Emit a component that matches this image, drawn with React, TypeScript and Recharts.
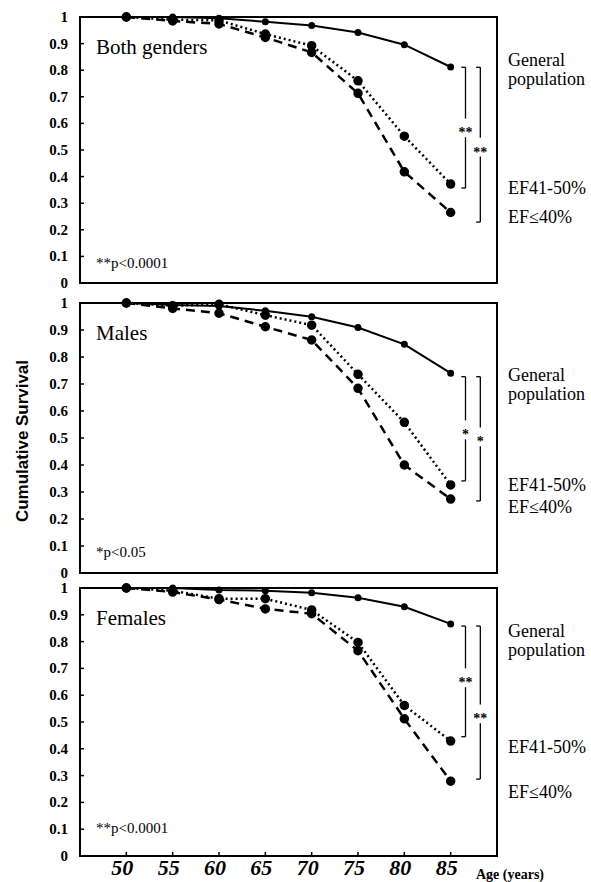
import React from 'react';
import { LineChart, Line, XAxis, YAxis, ReferenceArea, ReferenceLine, ReferenceDot } from 'recharts';

const ages = [50, 55, 60, 65, 70, 75, 80, 85];
const yTicks = [0, 0.1, 0.2, 0.3, 0.4, 0.5, 0.6, 0.7, 0.8, 0.9, 1];

const bothGeneral = [1.0, 1.0, 0.995, 0.982, 0.968, 0.942, 0.896, 0.812];
const bothEF4150 = [1.0, 0.99, 0.987, 0.936, 0.892, 0.76, 0.552, 0.372];
const bothEF40 = [1.0, 0.985, 0.974, 0.923, 0.867, 0.713, 0.418, 0.265];

const malesGeneral = [1.0, 0.993, 0.989, 0.971, 0.949, 0.909, 0.847, 0.74];
const malesEF4150 = [1.0, 0.99, 0.995, 0.955, 0.918, 0.736, 0.558, 0.326];
const malesEF40 = [1.0, 0.98, 0.962, 0.912, 0.863, 0.684, 0.4, 0.274];

const femalesGeneral = [1.0, 1.0, 0.993, 0.99, 0.982, 0.964, 0.93, 0.866];
const femalesEF4150 = [1.0, 0.99, 0.96, 0.96, 0.918, 0.797, 0.562, 0.429];
const femalesEF40 = [1.0, 0.985, 0.957, 0.922, 0.904, 0.766, 0.512, 0.279];

// brackets: [x, top, bottom, star position]
const bothBrackets = [[86.6, 0.811, 0.357, 0.583], [88.2, 0.811, 0.229, 0.511]];
const malesBrackets = [[86.6, 0.727, 0.341, 0.53], [88.2, 0.727, 0.267, 0.504]];
const femalesBrackets = [[86.6, 0.858, 0.445, 0.665], [88.2, 0.858, 0.287, 0.53]];

const serif = 'Liberation Serif, Times New Roman, serif';

function YTick(props: any) {
  const { x, y, payload } = props;
  const v = payload.value;
  const label = v === 0 ? '0' : v === 1 ? '1' : v.toFixed(1);
  return (
    <g>
      <line x1={x} x2={x + 4} y1={y} y2={y} stroke="#000" strokeWidth={1.5} />
      <text x={x - 12} y={y} textAnchor="end" dominantBaseline="central" fontFamily={serif} fontWeight="bold" fontSize={15} fill="#000">
        {label}
      </text>
    </g>
  );
}

function makeXTick(showLabel: boolean) {
  return (props: any) => {
    const { x, y, payload } = props;
    return (
      <g>
        <line x1={x} x2={x} y1={y} y2={y - 4} stroke="#000" strokeWidth={1.5} />
        {showLabel ? (
          <text x={x - 4} y={y + 11} textAnchor="middle" dominantBaseline="central" fontFamily={serif} fontWeight="bold" fontStyle="italic" fontSize={22} fill="#000">
            {payload.value}
          </text>
        ) : null}
      </g>
    );
  };
}

function starLabel(text: string) {
  return (props: any) => {
    const vb = props.viewBox || {};
    const cx = vb.x + (vb.width || 0) / 2;
    const cy = vb.y + (vb.height || 0) / 2;
    return (
      <text x={cx} y={cy + 5} textAnchor="middle" dominantBaseline="central" fontFamily={serif} fontWeight="bold" fontSize={14} fill="#000">
        {text}
      </text>
    );
  };
}

function Panel(p: any) {
  const data = ages.map((a, i) => ({ age: a, g: p.general[i], d: p.ef4150[i], e: p.ef40[i] }));
  const gap = 0.035;
  const tick = 0.45;
  return (
    <div style={{ position: 'absolute', left: 0, top: p.top }}>
      <LineChart width={591} height={p.height} data={data} margin={{ top: p.mTop, right: 94, bottom: p.mBottom, left: 0 }}>
        <XAxis
          dataKey="age"
          type="number"
          domain={[45, 90]}
          ticks={ages}
          interval={0}
          height={p.xHeight}
          tickLine={false}
          tickSize={0}
          tickMargin={0}
          axisLine={{ stroke: '#000', strokeWidth: 2 }}
          tick={makeXTick(p.showX)}
        />
        <YAxis
          type="number"
          domain={[0, 1]}
          ticks={yTicks}
          interval={0}
          width={80}
          tickLine={false}
          tickSize={0}
          tickMargin={0}
          axisLine={{ stroke: '#000', strokeWidth: 2 }}
          tick={YTick}
        />
        <ReferenceArea x1={45} x2={90} y1={0} y2={1} fill="none" fillOpacity={0} stroke="#000" strokeWidth={2} ifOverflow="visible" />
        {p.brackets.map((b: number[], i: number) => (
          <ReferenceLine key={'a' + i} segment={[{ x: b[0], y: b[1] }, { x: b[0], y: b[3] + gap }]} stroke="#000" strokeWidth={1.3} ifOverflow="visible" />
        ))}
        {p.brackets.map((b: number[], i: number) => (
          <ReferenceLine key={'b' + i} segment={[{ x: b[0], y: b[3] - gap }, { x: b[0], y: b[2] }]} stroke="#000" strokeWidth={1.3} ifOverflow="visible" />
        ))}
        {p.brackets.map((b: number[], i: number) => (
          <ReferenceLine key={'c' + i} segment={[{ x: b[0] - tick, y: b[1] }, { x: b[0], y: b[1] }]} stroke="#000" strokeWidth={1.3} ifOverflow="visible" />
        ))}
        {p.brackets.map((b: number[], i: number) => (
          <ReferenceLine key={'d' + i} segment={[{ x: b[0] - tick, y: b[2] }, { x: b[0], y: b[2] }]} stroke="#000" strokeWidth={1.3} ifOverflow="visible" />
        ))}
        {p.brackets.map((b: number[], i: number) => (
          <ReferenceDot key={'s' + i} x={b[0]} y={b[3]} r={0} fill="none" stroke="none" label={starLabel(p.star)} ifOverflow="visible" />
        ))}
        <Line type="linear" dataKey="e" stroke="#000" strokeWidth={2.5} strokeDasharray="9 6" dot={{ r: 3.5, fill: '#000', stroke: '#000', strokeDasharray: '' }} isAnimationActive={false} />
        <Line type="linear" dataKey="d" stroke="#000" strokeWidth={2.5} strokeDasharray="2 3" dot={{ r: 3.5, fill: '#000', stroke: '#000', strokeDasharray: '' }} isAnimationActive={false} />
        <Line type="linear" dataKey="g" stroke="#000" strokeWidth={2} dot={{ r: 2.5, fill: '#000', stroke: '#000' }} isAnimationActive={false} />
      </LineChart>
    </div>
  );
}

const T = (props: any) => (
  <text fontFamily={serif} fontSize={18} fill="#000" dominantBaseline="central" {...props} />
);

export default function App() {
  return (
    <div style={{ position: 'absolute', left: 0, top: 0, width: 591, height: 882, background: '#fff', fontFamily: serif }}>
      <Panel top={0} height={300} mTop={17} mBottom={17} xHeight={0} showX={false} general={bothGeneral} ef4150={bothEF4150} ef40={bothEF40} brackets={bothBrackets} star="**" />
      <Panel top={290} height={300} mTop={13} mBottom={17} xHeight={0} showX={false} general={malesGeneral} ef4150={malesEF4150} ef40={malesEF40} brackets={malesBrackets} star="*" />
      <Panel top={580} height={302} mTop={8} mBottom={0} xHeight={26} showX={true} general={femalesGeneral} ef4150={femalesEF4150} ef40={femalesEF40} brackets={femalesBrackets} star="**" />
      <svg width={591} height={882} style={{ position: 'absolute', left: 0, top: 0, pointerEvents: 'none' }}>
        <T x={96} y={47} fontSize={21}>Both genders</T>
        <T x={96} y={263} fontSize={15}>**p&lt;0.0001</T>
        <T x={96} y={333} fontSize={21}>Males</T>
        <T x={96} y={552} fontSize={15}>*p&lt;0.05</T>
        <T x={96} y={618} fontSize={21}>Females</T>
        <T x={96} y={828} fontSize={15}>**p&lt;0.0001</T>

        <T x={508} y={60}>General</T>
        <T x={508} y={79}>population</T>
        <T x={508} y={188}>EF41-50%</T>
        <T x={508} y={217}>EF≤40%</T>

        <T x={508} y={375}>General</T>
        <T x={508} y={394}>population</T>
        <T x={508} y={485}>EF41-50%</T>
        <T x={508} y={507}>EF≤40%</T>

        <T x={508} y={631}>General</T>
        <T x={508} y={650}>population</T>
        <T x={508} y={747}>EF41-50%</T>
        <T x={508} y={792}>EF≤40%</T>

        <text x={476} y={874} fontFamily={serif} fontWeight="bold" fontSize={14} dominantBaseline="central" fill="#000">Age (years)</text>
        <text
          transform="translate(22,441) rotate(-90)"
          textAnchor="middle"
          dominantBaseline="central"
          fontFamily="Liberation Sans, Arial, sans-serif"
          fontWeight="bold"
          fontSize={17}
          textLength={162}
          lengthAdjust="spacingAndGlyphs"
          fill="#000"
        >
          Cumulative Survival
        </text>
      </svg>
    </div>
  );
}
